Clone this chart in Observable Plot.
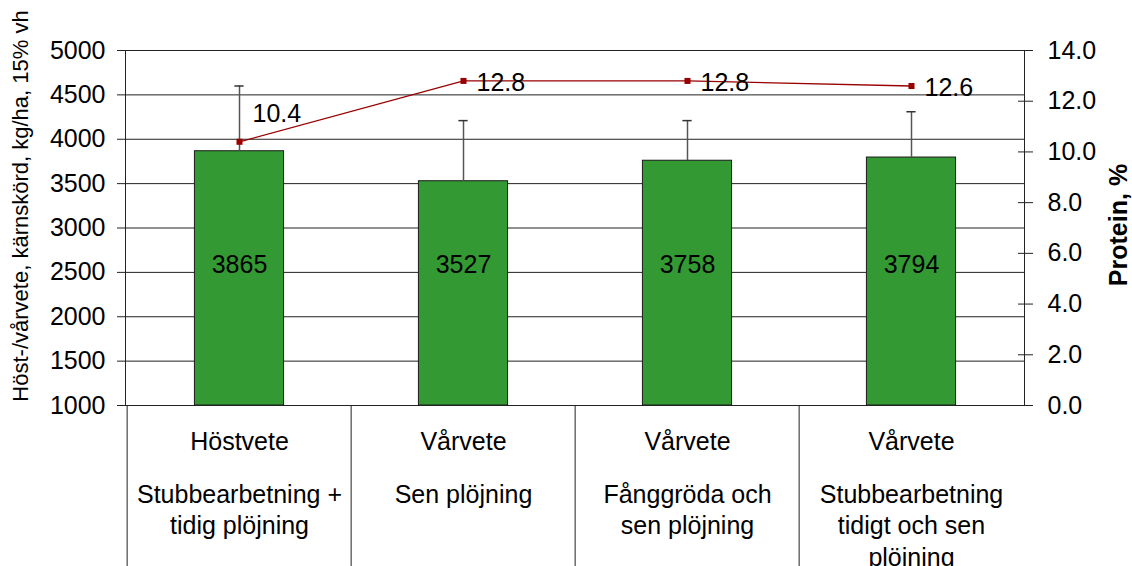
<!DOCTYPE html>
<html>
<head>
<meta charset="utf-8">
<script src="https://cdn.jsdelivr.net/npm/d3@7"></script>
<script src="https://cdn.jsdelivr.net/npm/@observablehq/plot@0.6"></script>
<style>
  body { margin: 0; background: #fff; }
  svg { font-family: "Liberation Sans", Arial, sans-serif; }
</style>
</head>
<body>
<div id="chart"></div>
<script>
const keys = ["k1", "k2", "k3", "k4"];
const crops = ["Höstvete", "Vårvete", "Vårvete", "Vårvete"];
const treatments = ["Stubbearbetning +\ntidig plöjning", "Sen plöjning", "Fånggröda och\nsen plöjning", "Stubbearbetning\ntidigt och sen\nplöjning"];
const yields = [3865, 3527, 3758, 3794];
const errorTops = [4600, 4210, 4210, 4310];
const protein = [10.4, 12.8, 12.8, 12.6];
const yieldTicks = [1000, 1500, 2000, 2500, 3000, 3500, 4000, 4500, 5000];
const proteinTicks = [0, 2, 4, 6, 8, 10, 12, 14];
const yTitle = "Höst-/vårvete, kärnskörd, kg/ha, 15% vh";
const rightTitle = "Protein, %";

const yMin = 1000, yMax = 5000, pMax = 14;
const toY = p => yMin + p * (yMax - yMin) / pMax;
const fromY = v => (v - yMin) * pMax / (yMax - yMin);

const data = keys.map((k, i) => ({
  key: k, crop: crops[i], treatment: treatments[i],
  yield: yields[i], err: errorTops[i], protein: protein[i]
}));

const W = 1132, H = 566;
const mL = 125, mR = 108, mT = 50, mB = 161;
const bw = (W - mL - mR) / keys.length;
const barInset = bw * 0.3;
const fs = 25;

const chart = Plot.plot({
  width: W, height: H,
  marginLeft: mL, marginRight: mR, marginTop: mT, marginBottom: mB,
  style: {fontFamily: '"Liberation Sans", Arial, sans-serif', fontSize: fs + "px", color: "#000", background: "#fff"},
  x: {type: "band", domain: keys, padding: 0, axis: null},
  y: {domain: [yMin, yMax], axis: null},
  marks: [
    Plot.gridY(yieldTicks, {stroke: "#222", strokeOpacity: 1, strokeWidth: 1}),
    Plot.barY(data, {x: "key", y1: yMin, y2: "yield", fill: "#339933", stroke: "#1a1a1a", strokeWidth: 1, insetLeft: barInset, insetRight: barInset}),
    Plot.ruleX(data, {x: "key", y1: "yield", y2: "err", stroke: "#555", strokeWidth: 1.5}),
    Plot.tickY(data, {x: "key", y: "err", stroke: "#333", strokeWidth: 1.5, insetLeft: (bw - 10) / 2, insetRight: (bw - 10) / 2}),
    Plot.text(data, {x: "key", frameAnchor: "middle", dy: 37, text: d => String(d.yield), fontSize: fs, fill: "#000"}),
    Plot.frame({stroke: "#222", strokeWidth: 1}),
    Plot.ruleX(data, {x: "key", dx: -bw / 2, insetTop: H - mT - mB, insetBottom: -mB, stroke: "#222", strokeWidth: 1}),
    Plot.axisY(yieldTicks, {anchor: "left", tickSize: 8, tickPadding: 12, fontSize: fs, label: null, stroke: "#222", tickFormat: d => String(d)}),
    Plot.axisY(proteinTicks.map(toY), {anchor: "right", tickSize: 15, dx: -7, tickPadding: 15, fontSize: fs, label: null, stroke: "#222", tickFormat: v => fromY(v).toFixed(1)}),
    Plot.line(data, {x: "key", y: d => toY(d.protein), stroke: "#990000", strokeWidth: 1.3}),
    Plot.dot(data, {x: "key", y: d => toY(d.protein), symbol: "square", r: 3.4, fill: "#990000", stroke: "none"}),
    Plot.text(data.slice(0, 1), {x: "key", y: d => toY(d.protein), text: d => d.protein.toFixed(1), textAnchor: "start", dx: 13, dy: -28, fontSize: fs}),
    Plot.text(data.slice(1), {x: "key", y: d => toY(d.protein), text: d => d.protein.toFixed(1), textAnchor: "start", dx: 13, dy: 2, fontSize: fs}),
    Plot.text(data, {x: "key", frameAnchor: "bottom", text: "crop", dy: 44, fontSize: fs}),
    Plot.text(data, {x: "key", frameAnchor: "bottom", text: "treatment", lineAnchor: "top", lineHeight: 1.26, dy: 75, fontSize: fs}),
    Plot.text([yTitle], {frameAnchor: "left", textAnchor: "middle", text: d => d, rotate: -90, dx: -105, dy: -22, fontSize: 22}),
    Plot.text([rightTitle], {frameAnchor: "right", textAnchor: "middle", text: d => d, rotate: -90, dx: 94, dy: -3, fontSize: fs, fontWeight: "bold"})
  ]
});
document.getElementById("chart").appendChild(chart);
</script>
</body>
</html>
